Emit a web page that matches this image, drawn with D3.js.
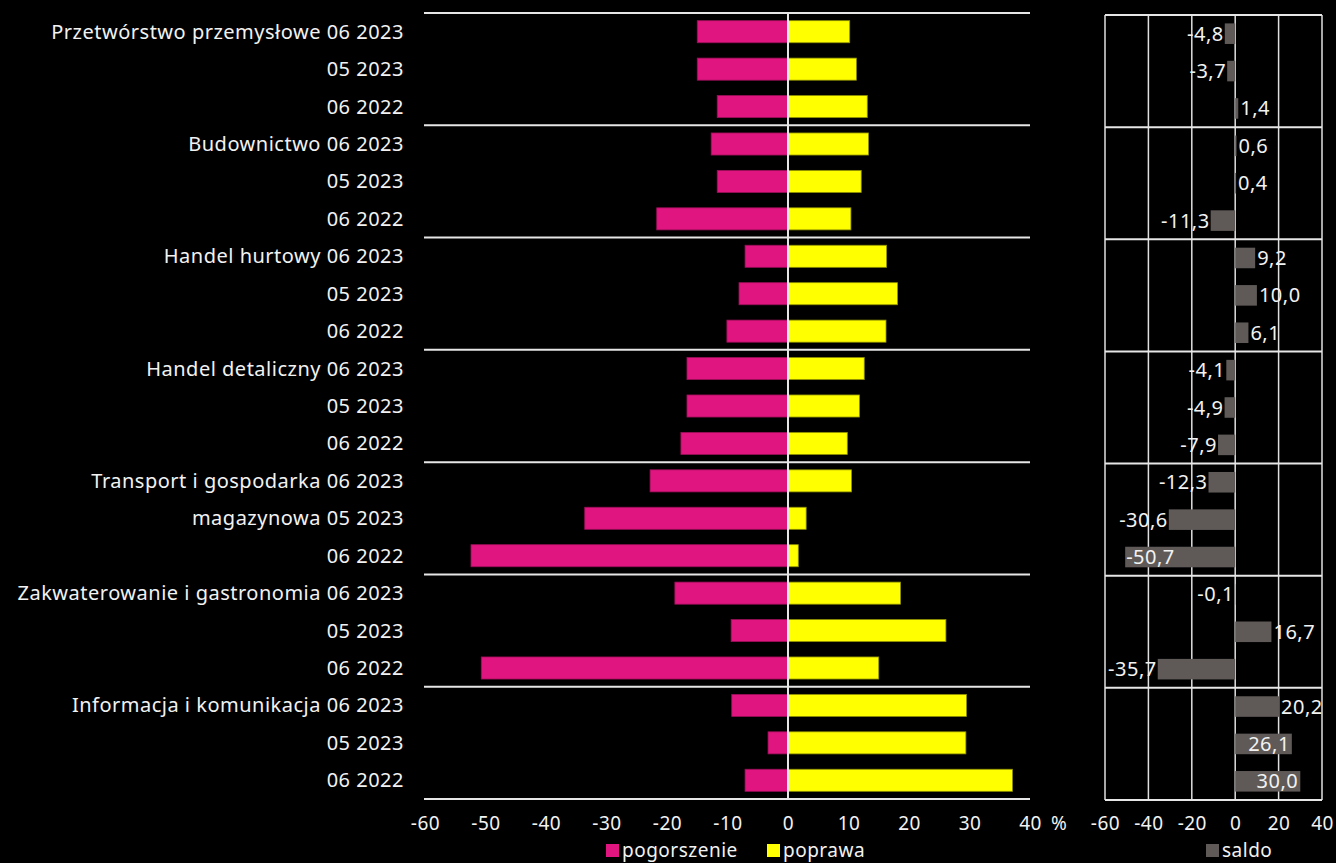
<!DOCTYPE html>
<html><head><meta charset="utf-8">
<script src="https://cdn.jsdelivr.net/npm/d3@7"></script>
<style>
html,body{margin:0;padding:0;background:#000;}
svg{display:block;font-family:"Noto Sans",sans-serif;}
svg text{letter-spacing:0.5px;}
</style></head>
<body>
<svg id="chart" width="1336" height="863"></svg>
<script>
const rowLabels = [
  "Przetwórstwo przemysłowe 06 2023","05 2023","06 2022",
  "Budownictwo 06 2023","05 2023","06 2022",
  "Handel hurtowy 06 2023","05 2023","06 2022",
  "Handel detaliczny 06 2023","05 2023","06 2022",
  "Transport i gospodarka 06 2023","magazynowa 05 2023","06 2022",
  "Zakwaterowanie i gastronomia 06 2023","05 2023","06 2022",
  "Informacja i komunikacja 06 2023","05 2023","06 2022"
];
const pogorszenie = [15.0,15.0,11.7, 12.7,11.7,21.7, 7.1,8.1,10.1, 16.7,16.7,17.7, 22.8,33.6,52.4, 18.7,9.4,50.7, 9.3,3.3,7.1];
const poprawa     = [10.2,11.3,13.1, 13.3,12.1,10.4, 16.3,18.1,16.2, 12.6,11.8,9.8, 10.5,3.0,1.7, 18.6,26.1,15.0, 29.5,29.4,37.1];
const saldo       = [-4.8,-3.7,1.4, 0.6,0.4,-11.3, 9.2,10.0,6.1, -4.1,-4.9,-7.9, -12.3,-30.6,-50.7, -0.1,16.7,-35.7, 20.2,26.1,30.0];
const leftTicks = [-60,-50,-40,-30,-20,-10,0,10,20,30,40];
const rightTicks = [-60,-40,-20,0,20,40];
const groupSize = 3;

const FS = 20, FS2 = 19;
const svg = d3.select("#chart");
const ids = d3.range(rowLabels.length);
const fmt = v => d3.format(".1f")(v).replace(".", ",").replace("−","-");

// Left panel
const x = d3.scaleLinear().domain([-60,40]).range([425,1030]);
const y = d3.scaleBand().domain(ids).range([13,799]).paddingInner(0.41).paddingOuter(0.205);
const left = svg.append("g");

left.selectAll("rect.neg").data(ids).join("rect")
  .attr("x", i => x(-pogorszenie[i])).attr("y", i => y(i))
  .attr("width", i => x(0) - x(-pogorszenie[i])).attr("height", y.bandwidth())
  .attr("fill", "#E0157F").attr("stroke","#9a0f58").attr("stroke-width",0.8);
left.selectAll("rect.pos").data(ids).join("rect")
  .attr("x", x(0)).attr("y", i => y(i))
  .attr("width", i => x(poprawa[i]) - x(0)).attr("height", y.bandwidth())
  .attr("fill", "#FFFF00").attr("stroke","#8f8f00").attr("stroke-width",0.8);

const seps = d3.range(0, rowLabels.length + 1, groupSize);
const sepY = k => k === 0 ? 13 : (k === rowLabels.length ? 799 : y(k) - (y.step()*y.paddingInner())/2);
left.selectAll("line.sep").data(seps).join("line")
  .attr("x1", 424).attr("x2", 1030).attr("y1", sepY).attr("y2", sepY)
  .attr("stroke", "#e6e6e6").attr("stroke-width", 2);
left.append("line").attr("x1", x(0)).attr("x2", x(0)).attr("y1", 13).attr("y2", 799)
  .attr("stroke", "#e6e6e6").attr("stroke-width", 2);

left.selectAll("text.lab").data(ids).join("text")
  .attr("x", 404).attr("y", i => y(i) + y.bandwidth()/2).attr("dy","0.35em")
  .attr("text-anchor","end").attr("fill","#f2f2f2").attr("font-size",FS)
  .text(i => rowLabels[i]);

const AX_Y = 813.5;
const ax = d3.axisBottom(x).tickValues(leftTicks).tickSize(0).tickFormat(d => String(d).replace("−","-"));
const axg = svg.append("g").attr("transform",`translate(0,${AX_Y})`).call(ax);
axg.select(".domain").remove();
axg.selectAll("text").attr("fill","#f2f2f2").attr("font-size",FS2).attr("font-family","Noto Sans");
svg.append("text").attr("x", x(40) + 21).attr("y", 830).attr("fill","#f2f2f2").attr("font-size",FS2).text("%");

const LY = 857;
const lg = svg.append("g");
lg.append("rect").attr("x",606).attr("y",LY-13).attr("width",13).attr("height",13).attr("fill","#E0157F");
lg.append("text").attr("x",622).attr("y",LY).attr("fill","#f2f2f2").attr("font-size",FS2).text("pogorszenie");
lg.append("rect").attr("x",767).attr("y",LY-13).attr("width",13).attr("height",13).attr("fill","#FFFF00");
lg.append("text").attr("x",783).attr("y",LY).attr("fill","#f2f2f2").attr("font-size",FS2).text("poprawa");

// Right panel
const x2 = d3.scaleLinear().domain([-60,40]).range([1105,1322]);
const y2 = d3.scaleBand().domain(ids).range([15,800]).paddingInner(0.45).paddingOuter(0.225);
const right = svg.append("g");
right.selectAll("line.vg").data(rightTicks).join("line")
  .attr("x1", d => x2(d)).attr("x2", d => x2(d)).attr("y1", 15).attr("y2", 800)
  .attr("stroke","#e0e0e0").attr("stroke-width",1.5);
const sepY2 = k => 15 + (800-15) * k / rowLabels.length;
right.selectAll("line.hs").data(seps).join("line")
  .attr("x1", 1105).attr("x2", 1322).attr("y1", sepY2).attr("y2", sepY2)
  .attr("stroke","#e6e6e6").attr("stroke-width",2);
right.selectAll("rect.s").data(ids).join("rect")
  .attr("x", i => x2(Math.min(0, saldo[i]))).attr("y", i => y2(i))
  .attr("width", i => Math.abs(x2(saldo[i]) - x2(0))).attr("height", y2.bandwidth())
  .attr("fill","#5f5a58");
right.selectAll("text.sl").data(ids).join("text")
  .attr("y", i => y2(i) + y2.bandwidth()/2).attr("dy","0.35em")
  .attr("fill","#f2f2f2").attr("font-size",FS)
  .each(function(i){
    const v = saldo[i];
    const t = d3.select(this).text(fmt(v));
    const w = this.getComputedTextLength();
    const end = x2(v);
    if (v >= 0) {
      if (end + 2 + w > 1324) t.attr("x", end - 2).attr("text-anchor","end");
      else t.attr("x", end + 2).attr("text-anchor","start");
    } else {
      if (end - 2 - w < 1105) t.attr("x", end + 1).attr("text-anchor","start");
      else t.attr("x", end - 1).attr("text-anchor","end");
    }
  });
const ax2 = d3.axisBottom(x2).tickValues(rightTicks).tickSize(0).tickFormat(d => String(d).replace("−","-"));
const ax2g = svg.append("g").attr("transform",`translate(0,${AX_Y})`).call(ax2);
ax2g.select(".domain").remove();
ax2g.selectAll("text").attr("fill","#f2f2f2").attr("font-size",FS2).attr("font-family","Noto Sans");
svg.append("rect").attr("x",1206).attr("y",LY-13).attr("width",13).attr("height",13).attr("fill","#5f5a58");
svg.append("text").attr("x",1222).attr("y",LY).attr("fill","#f2f2f2").attr("font-size",FS2).text("saldo");
</script>
</body></html>
